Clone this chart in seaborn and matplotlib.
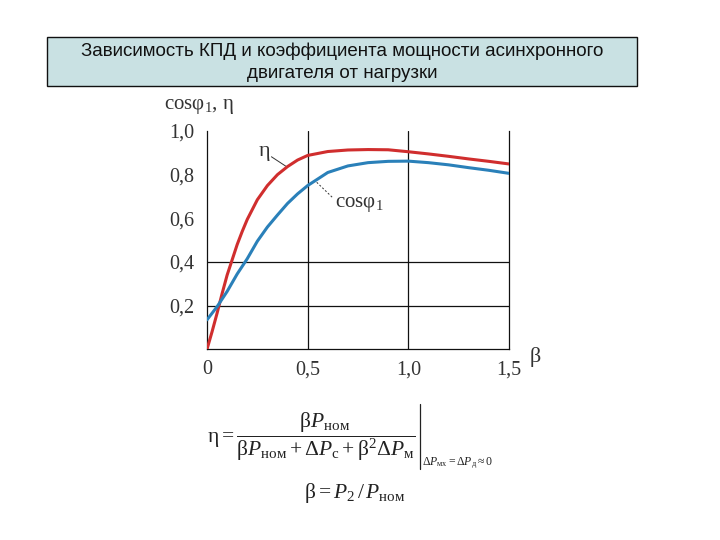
import pandas as pd
import seaborn as sns
import matplotlib
matplotlib.use('Agg')
import matplotlib.pyplot as plt
from matplotlib.patches import Rectangle
from matplotlib.lines import Line2D

beta = [0, 0.025, 0.05, 0.075, 0.1, 0.125, 0.15, 0.175, 0.2, 0.25, 0.3, 0.35, 0.4,
        0.45, 0.5, 0.6, 0.7, 0.8, 0.9, 1.0, 1.1, 1.2, 1.3, 1.4, 1.5]
eta = [0, 0.08, 0.165, 0.255, 0.34, 0.41, 0.48, 0.54, 0.595, 0.685, 0.75, 0.80, 0.837,
       0.867, 0.888, 0.906, 0.913, 0.915, 0.914, 0.905, 0.895, 0.884, 0.872, 0.861, 0.849]
cosphi = [0.135, 0.165, 0.195, 0.23, 0.265, 0.305, 0.345, 0.38, 0.415, 0.495, 0.56, 0.615,
          0.668, 0.712, 0.75, 0.81, 0.84, 0.855, 0.861, 0.862, 0.855, 0.845, 0.832, 0.82, 0.806]
xticks = [0, 0.5, 1.0, 1.5]
xticklabels = ['0', '0,5', '1,0', '1,5']
yticks = [0.2, 0.4, 0.6, 0.8, 1.0]
yticklabels = ['0,2', '0,4', '0,6', '0,8', '1,0']
title = 'Зависимость КПД и коэффициента мощности асинхронного\nдвигателя от нагрузки'

sns.set_theme(style='white')
plt.rcParams['font.family'] = ['Liberation Serif', 'DejaVu Serif']
plt.rcParams['mathtext.fontset'] = 'custom'
plt.rcParams['mathtext.rm'] = 'Liberation Serif'
plt.rcParams['mathtext.it'] = 'Liberation Serif:italic'
plt.rcParams['mathtext.bf'] = 'Liberation Serif:bold'

df = pd.DataFrame({'beta': beta * 2,
                   'val': eta + cosphi,
                   'curve': ['eta'] * len(beta) + ['cos'] * len(beta)})

fig = plt.figure(figsize=(7.2, 5.4), dpi=100)
ax = fig.add_axes([0.2875, 0.3532, 0.4194, 0.4042])

sns.lineplot(data=df, x='beta', y='val', hue='curve',
             palette={'eta': '#d02e2e', 'cos': '#2a80b9'},
             linewidth=2.2, legend=False, ax=ax, zorder=3)
for ln in ax.lines:
    ln.set_solid_joinstyle('round')
    ln.set_solid_capstyle('round')

ax.set_xlim(0, 1.5)
ax.set_ylim(0, 1.0)
ax.set_xlabel('')
ax.set_ylabel('')
for x in [0.5, 1.0]:
    ax.axvline(x, color='#111111', lw=0.9, zorder=1)
for y in [0.2, 0.4]:
    ax.axhline(y, color='#111111', lw=0.9, zorder=1)
ax.spines['top'].set_visible(False)
for s in ['left', 'bottom', 'right']:
    ax.spines[s].set_color('#111111')
    ax.spines[s].set_linewidth(0.9)
ax.set_xticks(xticks)
ax.set_xticklabels(xticklabels)
ax.set_yticks(yticks)
ax.set_yticklabels(yticklabels)
ax.tick_params(length=0, labelsize=14.5, labelcolor='#333333')
ax.tick_params(axis='y', pad=9)
ax.tick_params(axis='x', pad=8)

ax.text(-0.215, 1.11, r'cos$\mathrm{φ_1}$, η', fontsize=15, color='#333333',
        ha='left', va='center')
ax.text(1.605, -0.035, 'β', fontsize=16, color='#333333', ha='left', va='center')

# curve labels
ax.text(0.288, 0.908, 'η', fontsize=16, color='#333333', ha='center', va='center')
ax.add_line(Line2D([0.32, 0.396], [0.882, 0.836], color='#333333', lw=0.7))
ax.text(0.756, 0.664, r'cos$\mathrm{φ_1}$', fontsize=15, color='#333333',
        ha='center', va='center')
ax.add_line(Line2D([0.545, 0.627], [0.765, 0.692], color='#333333', lw=0.7,
                   ls=(0, (2, 2))))

# title box
fig.patches.append(Rectangle((47 / 720, 1 - 86 / 540), 590 / 720, 49 / 540,
                             transform=fig.transFigure, facecolor='#c9e1e3',
                             edgecolor='#111111', lw=1.0))
fig.text(342 / 720, 1 - 62 / 540, title, ha='center', va='center',
         fontsize=13.5, family=['Liberation Sans'], color='#111111', linespacing=1.38)

# formulas
fig.text(207 / 720, 1 - 437 / 540,
         r'$\mathrm{η} = \dfrac{\mathrm{β} P_{\mathrm{ном}}}'
         r'{\mathrm{β} P_{\mathrm{ном}} + \Delta P_{\mathrm{с}} + \mathrm{β}^2 \Delta P_{\mathrm{м}}}$',
         fontsize=15.5, color='#222222', ha='left', va='center')
fig.add_artist(Line2D([420 / 720, 420 / 720], [1 - 404 / 540, 1 - 469 / 540],
                      transform=fig.transFigure, color='#222222', lw=0.9))
fig.text(422 / 720, 1 - 463 / 540,
         r'$\Delta P_{\mathrm{мх}} = \Delta P_{\mathrm{д}} \approx 0$',
         fontsize=8.5, color='#222222', ha='left', va='center')
fig.text(355 / 720, 1 - 493 / 540, r'$\mathrm{β} = P_2\, /\, P_{\mathrm{ном}}$',
         fontsize=15.5, color='#222222', ha='center', va='center')

fig.savefig('out.png', dpi=100)
